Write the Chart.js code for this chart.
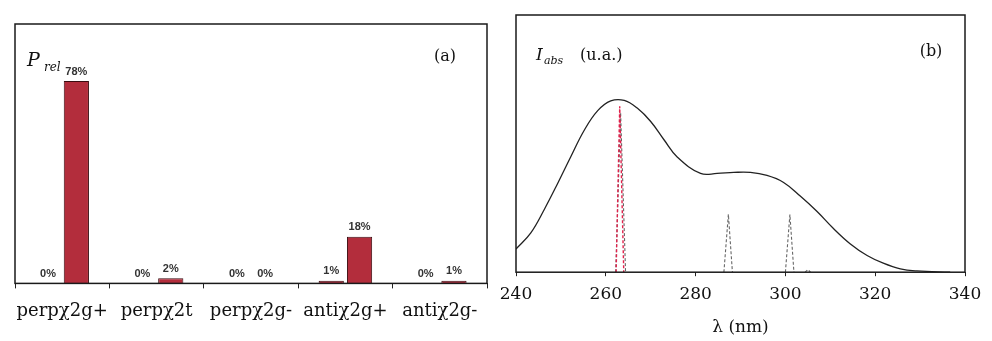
<!DOCTYPE html>
<html>
<head>
<meta charset="utf-8">
<script src="https://cdn.jsdelivr.net/npm/chart.js@4/dist/chart.umd.min.js"></script>
<style>
  body { margin: 0; background: #fff; }
  #wrap { position: relative; width: 992px; height: 341px; }
  #barChart { position: absolute; left: 0; top: 0; }
  #absChart { position: absolute; left: 496px; top: 0; }
</style>
</head>
<body>
<div id="wrap">
  <canvas id="barChart" width="496" height="341"></canvas>
  <canvas id="absChart" width="496" height="341"></canvas>
</div>
<script>
// (a) populations relatives des conformeres
var conformers = ['perpχ2g+', 'perpχ2t', 'perpχ2g-', 'antiχ2g+', 'antiχ2g-'];
var popFirst = [0, 0, 0, 1, 0];
var popSecond = [78, 2, 0, 18, 1];

// (b) spectre d'absorption
var lambdaNm = [240, 243.3, 246.3, 249.3, 252.2, 255.2, 258.2, 261.1, 264.1, 267, 270, 273, 275.9,
  281.1, 284.8, 288.5, 292.2, 295.9, 299.6, 303.3, 307, 310.7, 314.4, 318.2, 321.8,
  325.6, 329.3, 336.7];
var absValues = [9, 15.3, 24.4, 34.6, 44.9, 55.2, 62.8, 66.6, 66.8, 63.8, 58.6, 51.4, 44.8,
  38.4, 38.4, 38.8, 38.8, 37.6, 34.9, 29.6, 23.7, 17, 11.1, 6.5, 3.5,
  1.3, 0.5, 0];

// raies calculees (pics etroits, en pointilles)
var redLambda = [262.3, 263.1, 264.0];
var redValues = [0, 64.5, 0];
var greyLambda = [262.2, 263.3, 264.4, null, 286.3, 287.3, 288.2, null, 300.0, 301.0, 301.9, null, 304.4, 305.0, 305.6];
var greyValues = [0, 62, 0, null, 0, 22.5, 0, null, 0, 22.4, 0, null, 0, 1, 0];

var xTicks = [240, 260, 280, 300, 320, 340];

Chart.defaults.font.family = "'DejaVu Serif', serif";
Chart.defaults.color = '#222';

function toPoints(xs, ys) {
  return xs.map(function (x, i) { return { x: x === null ? NaN : x, y: ys[i] }; });
}

// cadre noir autour de la zone du graphe
var framePlugin = {
  id: 'frame',
  afterDraw: function (chart) {
    var a = chart.chartArea, ctx = chart.ctx;
    ctx.save();
    ctx.strokeStyle = '#1a1a1a';
    ctx.lineWidth = 1.5;
    ctx.strokeRect(a.left, a.top, a.right - a.left, a.bottom - a.top);
    ctx.restore();
  }
};

// pourcentages au-dessus des barres
var pctLabels = {
  id: 'pctLabels',
  afterDatasetsDraw: function (chart) {
    var ctx = chart.ctx;
    ctx.save();
    ctx.font = "bold 11px 'Liberation Sans', Arial, sans-serif";
    ctx.fillStyle = '#333';
    ctx.textAlign = 'center';
    ctx.textBaseline = 'bottom';
    chart.data.datasets.forEach(function (ds, di) {
      chart.getDatasetMeta(di).data.forEach(function (bar, i) {
        ctx.fillText(ds.data[i] + '%', bar.x, bar.y - 4);
      });
    });
    ctx.restore();
  }
};

var barNotes = {
  id: 'barNotes',
  afterDraw: function (chart) {
    var ctx = chart.ctx;
    ctx.save();
    ctx.fillStyle = '#111';
    ctx.textBaseline = 'alphabetic';
    ctx.font = "italic 19px 'DejaVu Serif', serif";
    ctx.fillText('P', 27, 66);
    ctx.font = "italic 12px 'DejaVu Serif', serif";
    ctx.fillText('rel', 44, 71);
    ctx.font = "16px 'DejaVu Serif', serif";
    ctx.textAlign = 'center';
    ctx.fillText('(a)', 445, 61);
    ctx.restore();
  }
};

var absNotes = {
  id: 'absNotes',
  afterDraw: function (chart) {
    var ctx = chart.ctx;
    ctx.save();
    ctx.fillStyle = '#111';
    ctx.font = "italic 17px 'DejaVu Serif', serif";
    ctx.fillText('I', 40, 60);
    ctx.font = "italic 11px 'DejaVu Serif', serif";
    ctx.fillText('abs', 48, 64);
    ctx.font = "16px 'DejaVu Serif', serif";
    ctx.fillText('(u.a.)', 84, 60);
    ctx.textAlign = 'center';
    ctx.fillText('(b)', 435, 56);
    ctx.restore();
  }
};

new Chart(document.getElementById('barChart').getContext('2d'), {
  type: 'bar',
  data: {
    labels: conformers,
    datasets: [{
      data: popFirst,
      backgroundColor: '#b32d3c',
      borderColor: '#3a0c10',
      borderWidth: 1,
      barPercentage: 0.89,
      categoryPercentage: 0.6
    }, {
      data: popSecond,
      backgroundColor: '#b32d3c',
      borderColor: '#3a0c10',
      borderWidth: 1,
      barPercentage: 0.89,
      categoryPercentage: 0.6
    }]
  },
  options: {
    responsive: false,
    animation: false,
    layout: { padding: { left: 15, right: 9, top: 24, bottom: 7 } },
    plugins: { legend: { display: false }, tooltip: { enabled: false } },
    scales: {
      x: {
        grid: { drawOnChartArea: false, tickLength: 5, color: '#222' },
        border: { display: false },
        ticks: { font: { size: 18 }, color: '#111', padding: 12, maxRotation: 0, autoSkip: false }
      },
      y: { display: false, min: 0, max: 100 }
    }
  },
  plugins: [framePlugin, pctLabels, barNotes]
});

new Chart(document.getElementById('absChart').getContext('2d'), {
  type: 'line',
  data: {
    datasets: [{
      data: toPoints(lambdaNm, absValues),
      borderColor: '#222',
      borderWidth: 1.3,
      pointRadius: 0,
      tension: 0.4
    }, {
      data: toPoints(redLambda, redValues),
      borderColor: '#e0204a',
      borderWidth: 1.4,
      borderDash: [3, 2],
      pointRadius: 0
    }, {
      data: toPoints(greyLambda, greyValues),
      borderColor: '#666',
      borderWidth: 1.1,
      borderDash: [3, 2],
      pointRadius: 0,
      spanGaps: false
    }]
  },
  options: {
    responsive: false,
    animation: false,
    layout: { padding: { left: 20, right: 27, top: 15, bottom: 3 } },
    plugins: { legend: { display: false }, tooltip: { enabled: false } },
    scales: {
      x: {
        type: 'linear',
        min: 240,
        max: 340,
        afterBuildTicks: function (axis) {
          axis.ticks = xTicks.map(function (v) { return { value: v }; });
        },
        afterFit: function (axis) {
          axis.paddingLeft = 0;
          axis.paddingRight = 0;
        },
        grid: { drawOnChartArea: false, tickLength: 4, color: '#222' },
        border: { display: false },
        ticks: { font: { size: 17 }, color: '#111', padding: 8, maxRotation: 0 },
        title: { display: true, text: 'λ (nm)', font: { size: 17 }, color: '#111', padding: { top: 5, bottom: 0 } }
      },
      y: { display: false, min: 0, max: 100 }
    }
  },
  plugins: [framePlugin, absNotes]
});
</script>
</body>
</html>
